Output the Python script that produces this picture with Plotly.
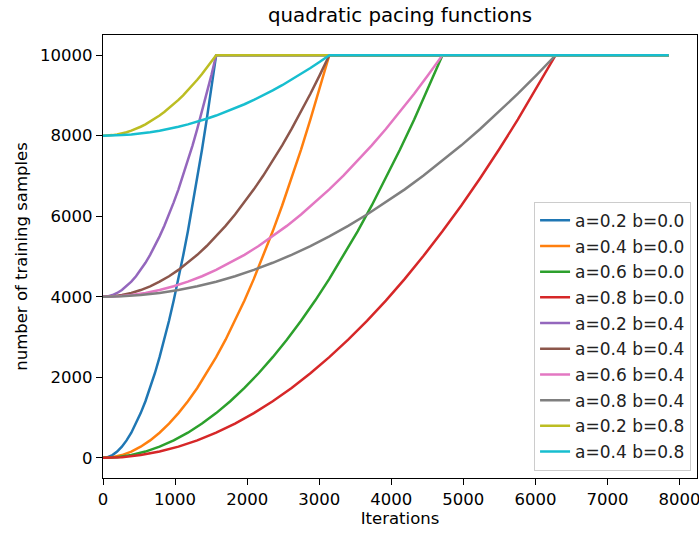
import plotly.graph_objects as go

# iterations at which the values were read, one grid per "a"
iters_a02 = [0, 65, 131, 196, 262, 327, 393, 458, 523, 589, 654, 720, 785, 850, 916, 981,
             1047, 1112, 1178, 1243, 1308, 1374, 1439, 1505, 1570, 7850]
iters_a04 = [0, 131, 262, 393, 523, 654, 785, 916, 1047, 1178, 1308, 1439, 1570, 1701, 1832, 1963,
             2093, 2224, 2355, 2486, 2617, 2748, 2878, 3009, 3140, 7850]
iters_a06 = [0, 196, 393, 589, 785, 981, 1178, 1374, 1570, 1766, 1963, 2159, 2355, 2551, 2748, 2944,
             3140, 3336, 3533, 3729, 3925, 4121, 4318, 4514, 4710, 7850]
iters_a08 = [0, 262, 523, 785, 1047, 1308, 1570, 1832, 2093, 2355, 2617, 2878, 3140, 3402, 3663, 3925,
             4187, 4448, 4710, 4972, 5233, 5495, 5757, 6018, 6280, 7850]

# number of training samples read at those iterations, per starting fraction "b"
samples_b00 = [0, 17, 69, 156, 278, 434, 625, 851, 1111, 1406, 1736, 2101, 2500, 2934, 3403, 3906,
               4444, 5017, 5625, 6267, 6944, 7656, 8403, 9184, 10000, 10000]
samples_b04 = [4000, 4010, 4042, 4094, 4167, 4260, 4375, 4510, 4667, 4844, 5042, 5260, 5500, 5760,
               6042, 6344, 6667, 7010, 7375, 7760, 8167, 8594, 9042, 9510, 10000, 10000]
samples_b08 = [8000, 8003, 8014, 8031, 8056, 8087, 8125, 8170, 8222, 8281, 8347, 8420, 8500, 8587,
               8681, 8781, 8889, 9003, 9125, 9253, 9389, 9531, 9681, 9837, 10000, 10000]

series_names = ["a=0.2 b=0.0", "a=0.4 b=0.0", "a=0.6 b=0.0", "a=0.8 b=0.0",
                "a=0.2 b=0.4", "a=0.4 b=0.4", "a=0.6 b=0.4", "a=0.8 b=0.4",
                "a=0.2 b=0.8", "a=0.4 b=0.8"]
series_x = [iters_a02, iters_a04, iters_a06, iters_a08,
            iters_a02, iters_a04, iters_a06, iters_a08,
            iters_a02, iters_a04]
series_y = [samples_b00, samples_b00, samples_b00, samples_b00,
            samples_b04, samples_b04, samples_b04, samples_b04,
            samples_b08, samples_b08]
colors = ["#1f77b4", "#ff7f0e", "#2ca02c", "#d62728", "#9467bd",
          "#8c564b", "#e377c2", "#7f7f7f", "#bcbd22", "#17becf"]

x_ticks = [0, 1000, 2000, 3000, 4000, 5000, 6000, 7000, 8000]
y_ticks = [0, 2000, 4000, 6000, 8000, 10000]

fig = go.Figure()
for i, (name, xs, ys, c) in enumerate(zip(series_names, series_x, series_y, colors)):
    fig.add_trace(go.Scatter(x=xs, y=ys, mode="lines", name=name,
                             legendgroup=f"g{i}",
                             line=dict(color=c, width=2.5)))

FS = 16.5
font = dict(family="DejaVu Sans", size=FS, color="black")
fig.update_layout(
    width=699, height=533,
    margin=dict(l=103, r=2, t=35, b=55, autoexpand=False),
    paper_bgcolor="white", plot_bgcolor="white",
    font=font,
    title=dict(text="quadratic pacing functions", x=0.5, xref="paper",
               y=1 - 15 / 533, yanchor="middle",
               font=dict(family="DejaVu Sans", size=19.8, color="black")),
    legend=dict(x=0.99, xanchor="right", y=0.0165, yanchor="bottom",
                bgcolor="rgba(255,255,255,0.8)", bordercolor="#cccccc", borderwidth=1,
                tracegroupgap=0.6, font=dict(family="DejaVu Sans", size=17, color="#222")),
    showlegend=True,
)
fig.update_xaxes(range=[0, 8242], tickvals=x_ticks, ticktext=[str(v) for v in x_ticks],
                 ticks="outside", ticklen=6, tickwidth=1.3, ticklabeloverflow="allow",
                 tickcolor="black", showline=True, linecolor="black", linewidth=1.3,
                 mirror=True, showgrid=False, zeroline=False, tickfont=font,
                 title=dict(text="Iterations", standoff=2, font=font))
fig.update_yaxes(range=[-500, 10500], tickvals=y_ticks, ticktext=[str(v) for v in y_ticks],
                 ticks="outside", ticklen=6, tickwidth=1.3,
                 tickcolor="black", showline=True, linecolor="black", linewidth=1.3,
                 mirror=True, showgrid=False, zeroline=False, tickfont=font,
                 title=dict(text="number of training samples", standoff=8, font=font))

fig.write_html("out.html", config={"displayModeBar": False},
               post_script="document.body.style.margin='0';")
